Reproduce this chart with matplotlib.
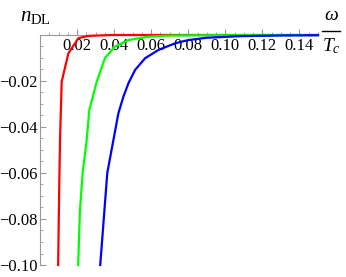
import matplotlib
matplotlib.use("Agg")
import matplotlib.pyplot as plt
import numpy as np

plt.rcParams['font.family'] = ['Liberation Serif', 'DejaVu Serif']
plt.rcParams['mathtext.fontset'] = 'custom'
plt.rcParams['mathtext.rm'] = 'Liberation Serif'
plt.rcParams['mathtext.it'] = 'Liberation Serif:italic'

# curves (omega/Tc, n_DL)
red_x = [0.0098, 0.0103, 0.0108, 0.0117, 0.0153, 0.0207, 0.026, 0.0387, 0.06, 0.10, 0.15]
red_y = [-0.100, -0.070, -0.0457, -0.0203, -0.008, -0.0014, -0.0004, 0.0, 0.0, 0.0, 0.0]

green_x = [0.0206, 0.0215, 0.0230, 0.0252, 0.0266, 0.0306, 0.0351, 0.0403, 0.0477, 0.0585, 0.071, 0.10, 0.15]
green_y = [-0.100, -0.077, -0.060, -0.0457, -0.0326, -0.0203, -0.0100, -0.0051, -0.0022, -0.0007, -0.0002, -0.0001, 0.0]

blue_x = [0.0325, 0.0363, 0.0396, 0.0423, 0.0450, 0.0477, 0.0513, 0.0567, 0.0639, 0.0729, 0.0800, 0.090, 0.108, 0.13, 0.15]
blue_y = [-0.100, -0.060, -0.0457, -0.034, -0.0268, -0.021, -0.0152, -0.0101, -0.0065, -0.0036, -0.0022, -0.0012, -0.0005, -0.0002, -0.0001]

x_major = [0.02, 0.04, 0.06, 0.08, 0.10, 0.12, 0.14]
x_labels = ['0.02', '0.04', '0.06', '0.08', '0.10', '0.12', '0.14']
y_major = [-0.02, -0.04, -0.06, -0.08, -0.10]
y_labels = ['\u22120.02', '\u22120.04', '\u22120.06', '\u22120.08', '\u22120.10']

fig = plt.figure(figsize=(3.46, 2.77), dpi=100)
ax = fig.add_axes([40/346, 1-265/277, 278/346, 230/277])

ax.plot(red_x, red_y, color='#ff0000', lw=1.6, clip_on=False)
ax.plot(green_x, green_y, color='#00ff00', lw=1.6, clip_on=False)
ax.plot(blue_x, blue_y, color='#0000ff', lw=1.6, clip_on=False)

ax.set_xlim(0, 0.15)
ax.set_ylim(-0.10, 0.0)

for s in ['top', 'right']:
    ax.spines[s].set_visible(False)
ax.spines['bottom'].set_position(('data', 0))
ax.spines['bottom'].set_color('#999999')
ax.spines['left'].set_color('#999999')
ax.spines['bottom'].set_zorder(0)

ax.set_xticks(x_major)
ax.set_xticklabels(x_labels)
ax.set_xticks(np.arange(0.005, 0.151, 0.005), minor=True)
ax.set_yticks(y_major)
ax.set_yticklabels(y_labels)
ax.set_yticks(np.arange(-0.095, 0.0, 0.005), minor=True)

ax.tick_params(which='both', direction='in', color='#999999', labelsize=12)
ax.tick_params(which='major', length=4, width=0.8)
ax.tick_params(which='minor', length=2.2, width=0.6)
ax.tick_params(axis='x', pad=2)
ax.tick_params(axis='y', pad=2)

# axis labels, Mathematica style
fig.text(35/346, 1-16/277, r'$n_{\mathrm{DL}}$', ha='center', va='center', fontsize=15)
fig.text(331/346, 1-15/277, r'$\omega$', ha='center', va='center', fontsize=14)
fig.add_artist(plt.Line2D([322/346, 340/346], [1-31/277, 1-31/277], color='black', lw=1.0))
fig.text(331/346, 1-46/277, r'$T_c$', ha='center', va='center', fontsize=14)

fig.savefig('out.png', dpi=100)
